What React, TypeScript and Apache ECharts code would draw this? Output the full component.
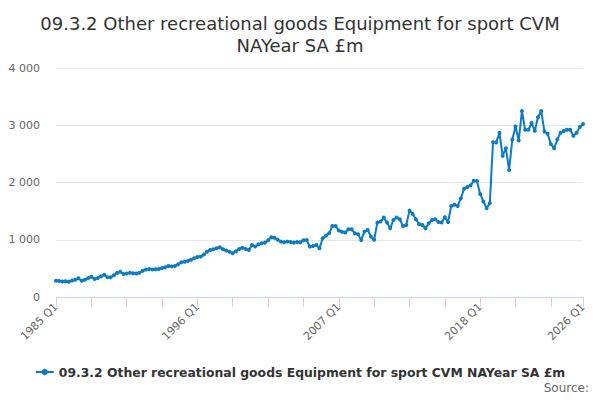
import { useEffect, useRef } from "react";
import * as echarts from "echarts";

const TITLE = "09.3.2 Other recreational goods Equipment for sport CVM\nNAYear SA £m";
const SERIES_NAME = "09.3.2 Other recreational goods Equipment for sport CVM NAYear SA £m";

// quarters 1985 Q1 .. 2026 Q1
const START_YEAR = 1985;
const QUARTER_COUNT = 165;
const quarters: string[] = [];
for (let i = 0; i < QUARTER_COUNT; i++) {
  quarters.push(`${START_YEAR + Math.floor(i / 4)} Q${(i % 4) + 1}`);
}

// values, £m
const values1985to1990 = [
  285, 280, 270, 275, 267, 290, 300, 327, 285, 300, 330, 355, 314, 330, 360, 390, 344, 345, 380, 420,
  442, 402, 410, 425,
];
const values1991to1996 = [
  415, 410, 425, 460, 480, 490, 480, 485, 490, 505, 520, 542, 535, 540, 570, 607, 615, 630, 650, 676,
  700, 705, 740, 792,
];
const values1997to2002 = [
  822, 833, 850, 870, 833, 810, 790, 764, 800, 839, 862, 840, 822, 909, 880, 920, 938, 950, 990, 1044,
  1035, 1000, 967,
];
const values2002to2008 = [
  955, 967, 960, 950, 960, 955, 990, 997, 880, 890, 909, 851, 1026, 1072, 1113, 1241, 1241, 1160, 1140,
  1125, 1183, 1183, 1113, 1096, 997,
];
const values2009to2015 = [
  1142, 1171, 1055, 1000, 1300, 1317, 1387, 1300, 1200, 1346, 1387, 1358, 1241, 1258, 1509, 1450, 1358,
  1270, 1258, 1200, 1287, 1346, 1358, 1310, 1300, 1395, 1310,
];
const values2015to2018 = [1590, 1610, 1590, 1725, 1890, 1920, 1950, 2030, 2025, 1800, 1667, 1550, 1640];
const values2019to2026 = [
  2705, 2700, 2870, 2465, 2600, 2220, 2750, 2980, 2733, 3250, 2920, 2920, 3040, 2905, 3140, 3250, 2890,
  2850, 2670, 2600, 2750, 2870, 2900, 2920, 2920, 2815, 2870, 2970, 3020,
];
const values = [
  ...values1985to1990,
  ...values1991to1996,
  ...values1997to2002,
  ...values2002to2008,
  ...values2009to2015,
  ...values2015to2018,
  ...values2019to2026,
];

const FONT = "DejaVu Sans, sans-serif";
const LINE_COLOR = "#0b7cc3";

function buildOption(): echarts.EChartsOption {
  const last = quarters.length - 1;
  return {
    animation: false,
    backgroundColor: "#fff",
    textStyle: { fontFamily: FONT },
    title: {
      text: TITLE,
      left: "center",
      top: 7,
      textStyle: { fontFamily: FONT, fontSize: 18, fontWeight: "normal", color: "#333", lineHeight: 22 },
    },
    grid: { left: 56, right: 17, top: 68, bottom: 103 },
    legend: {
      bottom: 17,
      left: "center",
      itemWidth: 18,
      itemHeight: 8,
      textStyle: { fontFamily: FONT, fontSize: 12.4, fontWeight: "bold", color: "#333" },
      data: [SERIES_NAME],
    },
    graphic: [
      {
        type: "text",
        right: 11,
        top: 382,
        style: { text: "Source:", fontFamily: FONT, fontSize: 12, fill: "#666" },
      },
    ],
    xAxis: {
      type: "category",
      data: quarters,
      boundaryGap: false,
      axisLine: { lineStyle: { color: "#ccd6eb" } },
      axisTick: {
        length: 10,
        lineStyle: { color: "#ccd6eb" },
        interval: (index: number) => index % 11 === 0 || index === last,
      },
      axisLabel: {
        rotate: 45,
        fontSize: 11,
        color: "#666",
        fontFamily: FONT,
        margin: 8,
        interval: (index: number) => index % 44 === 0 || index === last,
      },
      splitLine: { show: false },
    },
    yAxis: {
      type: "value",
      min: 0,
      max: 4000,
      interval: 1000,
      axisLine: { show: false },
      axisTick: { show: false },
      axisLabel: {
        fontSize: 11,
        color: "#666",
        fontFamily: FONT,
        margin: 16,
        formatter: (v: number) => (v >= 1000 ? `${Math.floor(v / 1000)} ${String(v % 1000).padStart(3, "0")}` : `${v}`),
      },
      splitLine: { lineStyle: { color: "#e6e6e6" } },
    },
    series: [
      {
        name: SERIES_NAME,
        type: "line",
        data: values,
        symbol: "circle",
        symbolSize: 4,
        showSymbol: true,
        showAllSymbol: true,
        lineStyle: { color: LINE_COLOR, width: 2 },
        itemStyle: { color: LINE_COLOR },
      },
    ],
  };
}

export default function App() {
  const chartRef = useRef<HTMLDivElement>(null);

  useEffect(() => {
    if (!chartRef.current) return;
    const chart = echarts.init(chartRef.current, undefined, { renderer: "svg" });
    chart.setOption(buildOption());
    return () => chart.dispose();
  }, []);

  return <div ref={chartRef} style={{ width: 600, height: 400, margin: -8 }} />;
}
